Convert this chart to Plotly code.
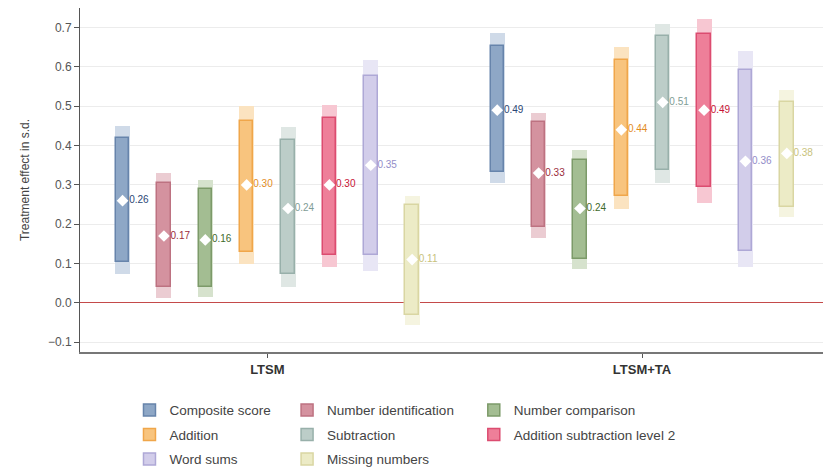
import plotly.graph_objects as go

groups = ["LTSM", "LTSM+TA"]
series = ["Composite score", "Number identification", "Number comparison", "Addition",
          "Subtraction", "Addition subtraction level 2", "Word sums", "Missing numbers"]

# point estimates per series: [LTSM, LTSM+TA]
estimate = [[0.26, 0.49], [0.17, 0.33], [0.16, 0.24], [0.30, 0.44],
            [0.24, 0.51], [0.30, 0.49], [0.35, 0.36], [0.11, 0.38]]
# inner interval (lower, upper)
inner_lo = [[0.104, 0.333], [0.040, 0.192], [0.040, 0.111], [0.130, 0.272],
            [0.073, 0.339], [0.122, 0.294], [0.122, 0.133], [-0.030, 0.243]]
inner_hi = [[0.420, 0.654], [0.305, 0.459], [0.290, 0.364], [0.463, 0.617],
            [0.415, 0.680], [0.470, 0.684], [0.576, 0.593], [0.250, 0.512]]
# outer interval (lower, upper)
outer_lo = [[0.074, 0.305], [0.013, 0.165], [0.016, 0.086], [0.100, 0.239],
            [0.040, 0.306], [0.090, 0.255], [0.082, 0.092], [-0.056, 0.218]]
outer_hi = [[0.450, 0.687], [0.330, 0.484], [0.313, 0.388], [0.500, 0.650],
            [0.448, 0.710], [0.503, 0.722], [0.617, 0.640], [0.272, 0.542]]

y_ticks = [-0.1, 0.0, 0.1, 0.2, 0.3, 0.4, 0.5, 0.6, 0.7]

fill = ["#8ea7c6", "#d4929f", "#a3bd92", "#f8c47e", "#bccdc8", "#ee7f99", "#d2cdea", "#ecebc6"]
border = ["#6784ab", "#bd7281", "#7c9a69", "#f0a64a", "#98b0aa", "#dc4c70", "#aea8d6", "#d9d6a2"]
pale = ["#cfdae8", "#ebccd2", "#d6e2cd", "#fbe3c0", "#dfe7e4", "#f7c7d2", "#e8e6f5", "#f5f4e0"]
label_col = ["#2c4775", "#9b2b3c", "#3f6a2c", "#e38c1f", "#7f9d96", "#c81335", "#938dc9", "#c8c27c"]

slot = 0.1104
bar_w = 0.040
legend_of = ["legend", "legend2", "legend3", "legend", "legend2", "legend3", "legend", "legend2"]

fig = go.Figure()
for k, name in enumerate(series):
    xs = [g + (k - 3.5) * slot for g in range(len(groups))]
    fig.add_trace(go.Bar(
        x=xs, y=[outer_hi[k][g] - outer_lo[k][g] for g in range(2)],
        base=[outer_lo[k][g] for g in range(2)], width=bar_w,
        marker=dict(color=pale[k], line=dict(width=0)),
        showlegend=False, legendgroup=name, hoverinfo="skip"))
    fig.add_trace(go.Bar(
        x=xs, y=[inner_hi[k][g] - inner_lo[k][g] for g in range(2)],
        base=[inner_lo[k][g] for g in range(2)], width=bar_w - 0.004,
        marker=dict(color=fill[k], line=dict(color=border[k], width=1.5)),
        name=name, legendgroup=name, legend=legend_of[k]))
    fig.add_trace(go.Scatter(
        x=xs, y=[estimate[k][g] for g in range(2)], mode="markers+text",
        marker=dict(symbol="diamond", color="white", size=9, line=dict(width=0)),
        text=["%.2f" % estimate[k][g] for g in range(2)], textposition="middle right",
        textfont=dict(size=10, color=label_col[k], family="Liberation Sans, Arial"),
        showlegend=False, legendgroup=name, cliponaxis=False))

leg_common = dict(orientation="v", yanchor="top", xanchor="left", tracegroupgap=4,
                  font=dict(size=13.5, color="#444", family="Liberation Sans, Arial"),
                  bgcolor="rgba(0,0,0,0)", itemwidth=30)

fig.update_layout(
    width=823, height=468,
    margin=dict(l=80, r=0, t=8, b=116, autoexpand=False),
    paper_bgcolor="white", plot_bgcolor="white",
    barmode="overlay", bargap=0,
    font=dict(family="Liberation Sans, Arial", color="#555"),
    xaxis=dict(range=[-0.5, 1.483], tickvals=[0, 1], ticktext=["<b>LTSM</b>", "<b>LTSM+TA</b>"],
               tickfont=dict(size=13, color="#333"), showgrid=False, zeroline=False,
               showline=True, linecolor="#777", linewidth=2, ticks="outside",
               ticklen=4, tickcolor="#555", automargin=False),
    yaxis=dict(range=[-0.125, 0.75], tickvals=y_ticks, tickformat=".1f",
               tickfont=dict(size=12, color="#555"), showgrid=True, gridcolor="#ececec",
               zeroline=True, zerolinecolor="#c44a4a", zerolinewidth=1,
               showline=True, linecolor="#555", linewidth=1, ticks="outside",
               ticklen=5, tickcolor="#555", automargin=False,
               title=dict(text="Treatment effect in s.d.", font=dict(size=12, color="#444"),
                          standoff=15)),
    legend=dict(x=0.0666, y=-0.124, **leg_common),
    legend2=dict(x=0.2787, y=-0.124, **leg_common),
    legend3=dict(x=0.530, y=-0.124, **leg_common),
)

fig.write_html("out.html", config={"displayModeBar": False},
               post_script="document.body.style.margin='0';document.body.style.overflow='hidden';")
